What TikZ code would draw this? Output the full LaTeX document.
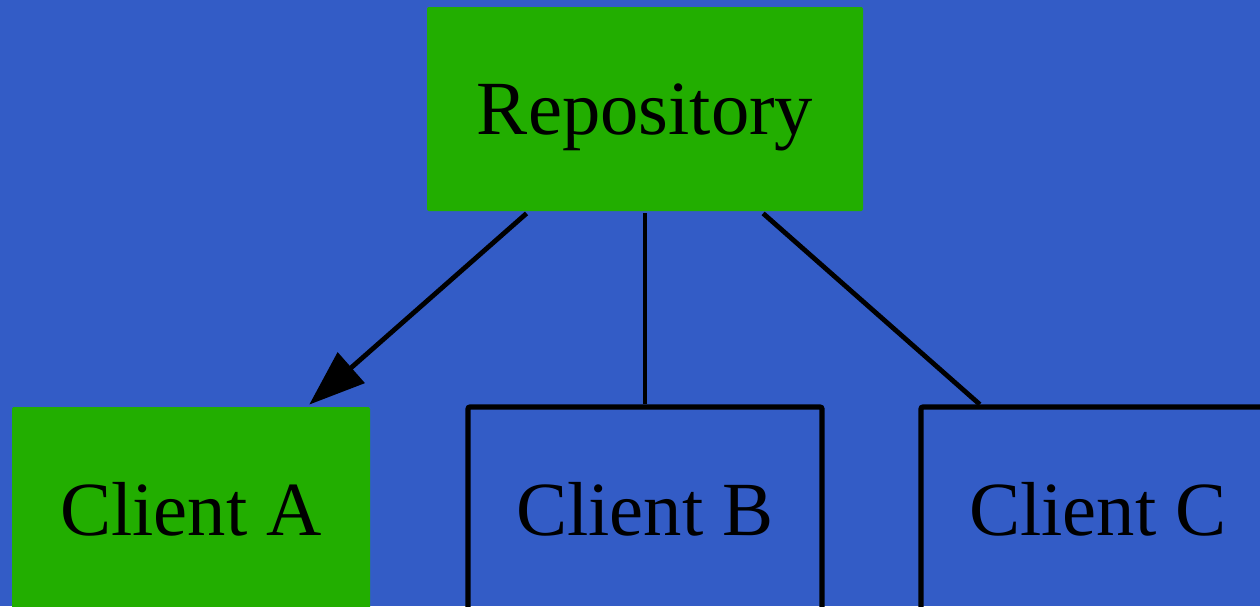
\documentclass[tikz,border=0pt]{standalone}
\usepackage{fontspec}
\setmainfont{Liberation Serif}
\usetikzlibrary{positioning,arrows.meta}
\definecolor{sky}{RGB}{51,92,198}
\definecolor{grass}{RGB}{34,174,0}
\tikzstyle{box} = [rectangle, rounded corners=1pt, minimum height=102pt, inner sep=0pt, font=\fontsize{38.3}{46}\selectfont]
\tikzstyle{lit} = [box, fill=grass, draw=none]
\tikzstyle{plain} = [box, draw=black, line width=2.6pt, minimum width=177pt]

\begin{document}
\begin{tikzpicture}[line width=2.4pt, >={Triangle[length=28pt,width=20pt]}, on grid]

\fill[sky] (0,0) rectangle (630pt,-303pt);
\useasboundingbox (0,0) rectangle (630pt,-303pt);

\node[lit, minimum width=218pt, text depth=0pt] (repo) at (322.5pt,-54.5pt) {Repository};
\node[plain] (clientB) [below=200pt of repo] {Client B};
\node[lit, minimum width=179pt] (clientA) [left=227pt of clientB] {Client A};
\node[plain] (clientC) [right=226.5pt of clientB] {Client C};

  \path
    (repo) edge [->] node {} (clientA)
    (repo) edge [] node {} (clientB)
    (repo) edge [] node {} (clientC);

\end{tikzpicture}
\end{document}
